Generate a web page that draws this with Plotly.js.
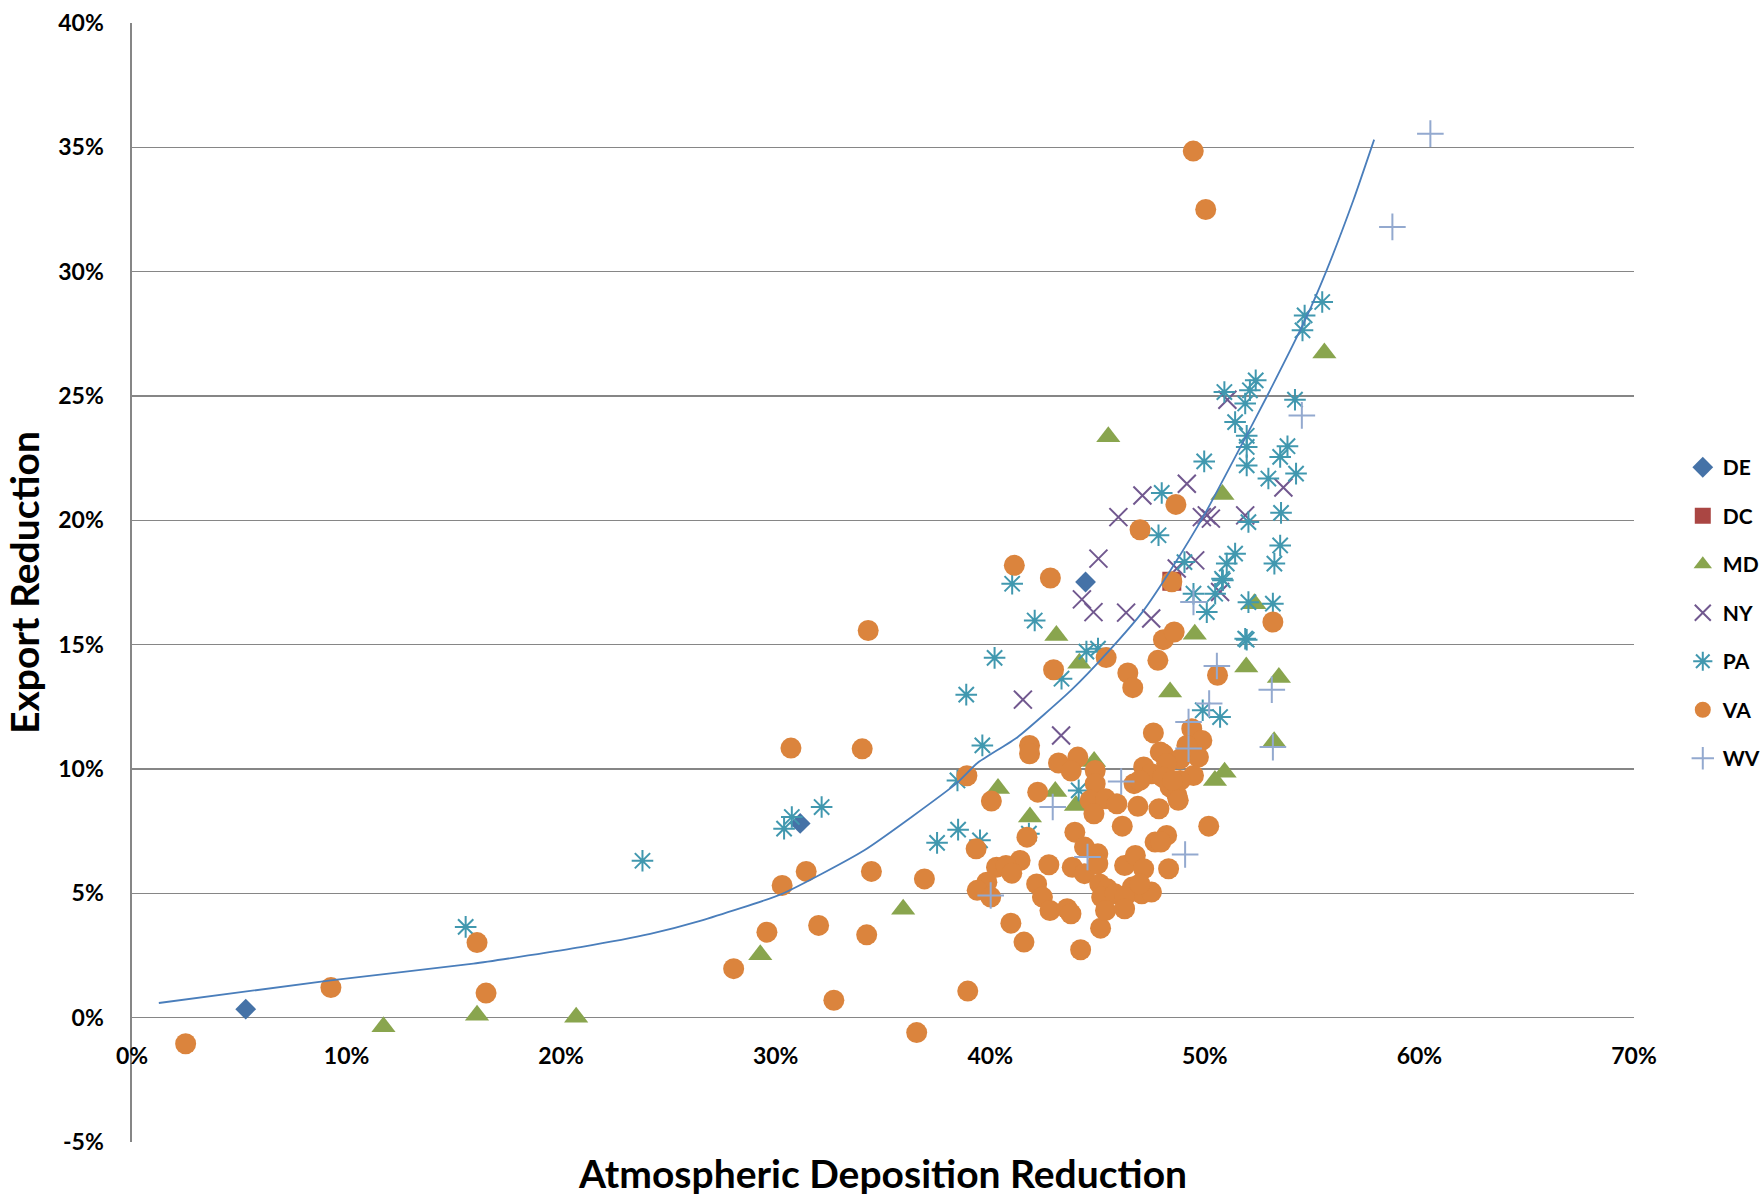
<!DOCTYPE html>
<html>
<head>
<meta charset="utf-8">
<script src="https://cdn.plot.ly/plotly-3.0.1.min.js"></script>
<style>html,body{margin:0;padding:0;background:#fff;}#chart{width:1763px;height:1196px;}</style>
</head>
<body>
<div id="chart"></div>
<script>
// ---- data (percent units) ----
const seriesNames = ["DE", "DC", "MD", "NY", "PA", "VA", "WV"];

const deX = [5.3, 31.14, 44.44];
const deY = [0.34, 7.81, 17.52];

const dcX = [48.46];
const dcY = [17.55];

const mdX = [11.72, 16.08, 20.7, 29.28, 35.94, 40.36, 41.85, 43.03, 43.99, 44.84, 43.08, 44.15, 45.5, 48.38, 49.53, 50.82, 52.31, 51.93, 53.45, 53.23, 50.92, 50.47, 55.57];
const mdY = [-0.37, 0.1, 0.02, 2.53, 4.36, 9.22, 8.07, 9.1, 8.53, 10.3, 15.37, 14.25, 23.36, 13.1, 15.42, 21.04, 16.65, 14.1, 13.68, 11.1, 9.87, 9.54, 26.73];

const nyX = [51.05, 45.97, 47.09, 49.16, 49.86, 50.09, 50.28, 51.88, 53.66, 45.04, 49.55, 48.69, 44.27, 44.81, 46.33, 47.5, 50.71, 41.52, 43.3];
const nyY = [24.85, 20.13, 21.0, 21.47, 20.13, 20.2, 20.07, 20.2, 21.32, 18.46, 18.39, 18.06, 16.82, 16.31, 16.29, 16.05, 17.12, 12.79, 11.35];

const paX = [15.55, 23.79, 30.39, 30.75, 32.14, 37.52, 38.5, 39.52, 38.47, 39.63, 38.88, 40.2, 41.02, 42.07, 43.32, 44.48, 45.02, 44.12, 41.8,
             47.84, 47.99, 49.97, 51.41, 51.95, 51.95, 51.95, 52.96, 53.51, 53.85, 54.25, 54.2, 51.88, 52.03, 53.55, 53.51, 53.24,
             49.05, 49.47, 50.09, 50.48, 51.02, 51.41, 50.84, 52.03, 53.17, 51.95, 49.9, 50.71, 55.47, 54.65, 54.55, 52.37, 50.91, 52.1, 50.8, 51.88];
const paY = [3.65, 6.31, 7.6, 8.07, 8.47, 7.03, 7.56, 7.13, 9.54, 10.95, 12.99, 14.47, 17.45, 15.97, 13.63, 14.72, 14.84, 9.14, 7.4,
             19.4, 21.1, 22.37, 23.95, 23.4, 22.95, 22.21, 21.68, 22.55, 22.98, 21.88, 24.85, 24.7, 19.93, 20.3, 18.99, 18.26,
             18.32, 17.05, 16.31, 17.05, 18.26, 18.66, 17.59, 16.71, 16.65, 15.2, 12.36, 12.09, 28.78, 28.24, 27.64, 25.63, 25.16, 25.23, 17.65, 15.24];

const vaX = [2.5, 9.27, 16.08, 16.5, 28.04, 29.59, 30.3, 30.71, 31.42, 32.0, 32.71, 34.03, 34.24, 34.31, 34.46, 36.57, 36.93, 38.91, 38.95,
             49.46, 50.04, 48.65, 46.98, 41.12, 42.8, 48.46, 53.17, 48.07, 48.57, 47.81, 45.4, 42.95, 46.41, 46.64, 50.59,
             41.83, 41.83, 43.18, 44.08, 43.77, 44.89, 44.89,
             47.6, 49.39, 49.86, 49.16, 48.07, 47.92, 49.7, 48.85, 49.47, 48.85, 48.38, 48.7, 47.15, 48.22, 47.51, 48.04, 48.49, 46.7, 46.97,
             39.34, 40.05, 42.21, 41.71, 43.94, 46.15, 50.18, 41.39, 40.29, 40.73, 41.0, 42.73, 43.82, 44.39, 46.26, 46.76, 47.15, 48.31,
             39.84, 39.39, 40.02, 42.16, 42.43, 42.78, 43.58, 43.76, 40.96, 41.57, 44.21, 45.14,
             45.1, 45.46, 45.19, 45.81, 46.62, 47.06, 47.51, 46.26, 45.37, 46.26, 46.97,
             44.65, 45.37, 45.9, 44.83, 46.88, 47.86, 48.76,
             44.39, 45.01, 45.01, 48.22, 47.68, 47.95];
const vaY = [-1.05, 1.21, 3.02, 0.99, 1.97, 3.44, 5.32, 10.84, 5.88, 3.71, 0.7, 10.81, 3.33, 15.57, 5.88, -0.6, 5.58, 9.73, 1.07,
             34.85, 32.5, 20.64, 19.62, 18.19, 17.68, 17.53, 15.91, 15.2, 15.51, 14.37, 14.48, 13.99, 13.86, 13.27, 13.77,
             10.95, 10.61, 10.24, 10.48, 9.92, 9.94, 9.41,
             11.45, 11.62, 11.15, 10.95, 10.6, 10.68, 10.48, 10.41, 9.74, 9.54, 9.27, 8.94, 10.08, 10.21, 9.81, 9.67, 9.54, 9.41, 9.54,
             6.79, 8.71, 9.07, 7.26, 7.46, 7.7, 7.7, 6.32, 6.05, 6.12, 5.81, 6.15, 6.05, 5.79, 6.12, 6.52, 5.99, 5.99,
             5.45, 5.12, 4.85, 5.38, 4.85, 4.31, 4.38, 4.18, 3.8, 3.04, 2.73, 3.6,
             5.38, 5.18, 4.85, 4.98, 5.25, 4.98, 5.05, 4.85, 4.31, 4.38, 5.38,
             8.74, 8.8, 8.6, 8.2, 8.5, 8.4, 8.74,
             6.86, 6.59, 6.19, 7.33, 7.06, 7.06];

const wvX = [60.51, 58.74, 54.52, 49.47, 50.56, 53.12, 50.2, 49.24, 49.24, 53.17, 46.1, 42.91, 44.53, 40.02, 49.08];
const wvY = [35.55, 31.8, 24.22, 16.72, 14.14, 13.19, 12.63, 11.89, 10.82, 10.88, 9.5, 8.47, 6.46, 4.91, 6.56];

// trend line
const trendX = [1.25, 9.26, 15.91, 20.91, 24.15, 26.48, 30.3, 34.13, 38.41, 39.4, 41.27, 43.76, 45.55, 47.15, 48.4, 50.09, 51.33, 52.92, 54.74, 55.65, 56.92, 57.89];
const trendY = [0.59, 1.5, 2.17, 2.84, 3.37, 3.89, 4.98, 6.73, 9.41, 10.24, 11.28, 13.16, 14.77, 16.38, 17.99, 20.4, 22.41, 25.03, 28.18, 30.0, 32.87, 35.31];

const xTickVals = [0, 10, 20, 30, 40, 50, 60, 70];
const xTickText = ["0%", "10%", "20%", "30%", "40%", "50%", "60%", "70%"];
const yTickVals = [-5, 0, 5, 10, 15, 20, 25, 30, 35, 40];
const yTickText = ["-5%", "0%", "5%", "10%", "15%", "20%", "25%", "30%", "35%", "40%"];

// ---- styling ----
const FONT = "Lato, 'Open Sans', sans-serif";
const GRID = "#868686";

function mk(name, x, y, symbol, color, size, open) {
  const m = {symbol: symbol, color: color, size: size};
  m.line = open ? {color: color, width: 2} : {width: 0};
  return {type: "scatter", mode: "markers", name: name, x: x, y: y, marker: m,
          legendgroup: name, cliponaxis: false, hoverinfo: "x+y+name"};
}

const traces = [
  mk(seriesNames[0], deX, deY, "diamond", "#4572A7", 16, false),
  mk(seriesNames[1], dcX, dcY, "square", "#AA4643", 19, false),
  mk(seriesNames[2], mdX, mdY, "triangle-up", "#89A54E", 21, false),
  mk(seriesNames[3], nyX, nyY, "x-thin-open", "#71588F", 18, true),
  mk(seriesNames[4], paX, paY, "asterisk-open", "#4198AF", 18, true),
  mk(seriesNames[5], vaX, vaY, "circle", "#DB843D", 21, false),
  mk(seriesNames[6], wvX, wvY, "cross-thin-open", "#93A9CF", 19, true),
  {type: "scatter", mode: "lines", x: trendX, y: trendY, showlegend: false,
   line: {color: "#4A7EBB", width: 1.8, shape: "spline", smoothing: 0.5}, hoverinfo: "skip"}
];

const layout = {
  width: 1763, height: 1196,
  margin: {l: 132, r: 129, t: 23, b: 54, autoexpand: false},
  paper_bgcolor: "#ffffff", plot_bgcolor: "#ffffff",
  font: {family: FONT, color: "#000000"},
  showlegend: true,
  xaxis: {
    range: [0, 70], tickvals: xTickVals, ticktext: xTickText,
    showgrid: false, zeroline: false, showline: false, ticks: "",
    anchor: "free", position: 5 / 45, ticklabelstandoff: 22,
    tickfont: {family: FONT, size: 23, weight: "bold", color: "#000"},
    title: {text: "Atmospheric Deposition Reduction", standoff: 93,
            font: {family: FONT, size: 39, weight: "bold", color: "#000"}}
  },
  yaxis: {
    range: [-5, 40], tickvals: yTickVals, ticktext: yTickText,
    showgrid: true, gridcolor: GRID, gridwidth: 1.6,
    zeroline: false, showline: true, linecolor: GRID, linewidth: 1.6,
    ticks: "", ticklabelstandoff: 22,
    tickfont: {family: FONT, size: 23, weight: "bold", color: "#000"},
    title: {text: "Export Reduction", standoff: 6,
            font: {family: FONT, size: 39, weight: "bold", color: "#000"}}
  },
  legend: {
    xref: "container", x: 0.9545, xanchor: "left", y: 0.621, yanchor: "top",
    bgcolor: "rgba(0,0,0,0)", tracegroupgap: 18.2,
    font: {family: FONT, size: 21, weight: "bold", color: "#000"}
  }
};

Plotly.newPlot("chart", traces, layout, {displayModeBar: false, staticPlot: true});
</script>
</body>
</html>
